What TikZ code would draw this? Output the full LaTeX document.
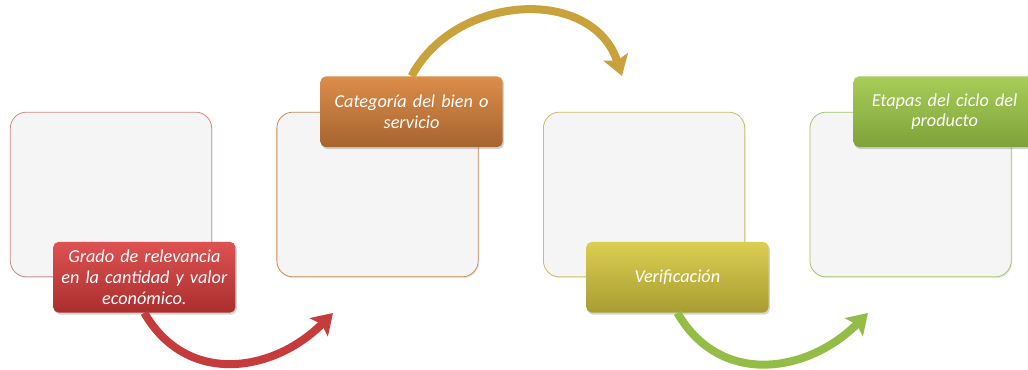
\documentclass[tikz,border=0pt]{standalone}
\usepackage{fontspec}
\setmainfont{Carlito}
\usetikzlibrary{positioning,arrows.meta,shadows}

\definecolor{boxgray}{HTML}{F5F5F5}
\definecolor{redline}{HTML}{D08A88}
\definecolor{orangeline}{HTML}{C98B55}
\definecolor{oliveline}{HTML}{C9BE62}
\definecolor{greenline}{HTML}{A6C46A}
\definecolor{redtop}{HTML}{DE5252}
\definecolor{redbot}{HTML}{AA2E2E}
\definecolor{orangetop}{HTML}{DC8D4A}
\definecolor{orangebot}{HTML}{A6642E}
\definecolor{olivetop}{HTML}{DACF52}
\definecolor{olivebot}{HTML}{A99C32}
\definecolor{greentop}{HTML}{A9CD58}
\definecolor{greenbot}{HTML}{7EA23A}
\definecolor{redarrow}{HTML}{C63B3B}
\definecolor{goldarrow}{HTML}{C9A23C}
\definecolor{greenarrow}{HTML}{93BD47}

\begin{document}
\begin{tikzpicture}[x=0.75pt, y=-0.75pt, node distance=48.3pt,
    card/.style={draw, line width=0.6pt, fill=boxgray, rounded corners=12pt,
        minimum width=151pt, minimum height=123.5pt,
        drop shadow={opacity=0.18, shadow xshift=0.8pt, shadow yshift=-1pt}},
    tag/.style={rounded corners=4pt, minimum width=135pt, minimum height=53pt,
        text width=130pt, align=center, text=white,
        font=\itshape\fontsize{13.7}{15.5}\selectfont,
        drop shadow={opacity=0.35, shadow xshift=1pt, shadow yshift=-1.5pt}},
    flow/.style={line width=6pt, looseness=1.15,
        -{Stealth[length=15pt, width=19pt, inset=3pt]}}
]
    \useasboundingbox (0,0) rectangle (1028,370);

    % the four empty cards
    \node[card, draw=redline] (box1) at (111,194.5) {};
    \node[card, draw=orangeline, right=of box1] (box2) {};
    \node[card, draw=oliveline, right=of box2] (box3) {};
    \node[card, draw=greenline, right=of box3] (box4) {};

    % free ends of the arrows
    \coordinate (end1) at (333,313);
    \coordinate (end2) at (622,76);
    \coordinate (end3) at (868,313);

    % labels on the cards
    \node[tag, top color=redtop, bottom color=redbot] (lab1) at ([xshift=25pt]box1.south) {
        Grado de relevancia\\
        en la cantidad y valor\\
        económico.
    };
    \node[tag, top color=orangetop, bottom color=orangebot] (lab2) at ([xshift=25.5pt]box2.north) {
        Categoría del bien o\\
        servicio
    };
    \node[tag, top color=olivetop, bottom color=olivebot] (lab3) at ([xshift=25pt]box3.south) {
        Verificación
    };
    \node[tag, top color=greentop, bottom color=greenbot] (lab4) at ([xshift=25.5pt]box4.north) {
        Etapas del ciclo del\\
        producto
    };

    \draw[flow, redarrow] (lab1.south) to[out=-60, in=-135] (end1);
    \draw[flow, goldarrow] (lab2.north) to[out=62, in=108] (end2);
    \draw[flow, greenarrow] (lab3.south) to[out=-60, in=-135] (end3);
\end{tikzpicture}
\end{document}
